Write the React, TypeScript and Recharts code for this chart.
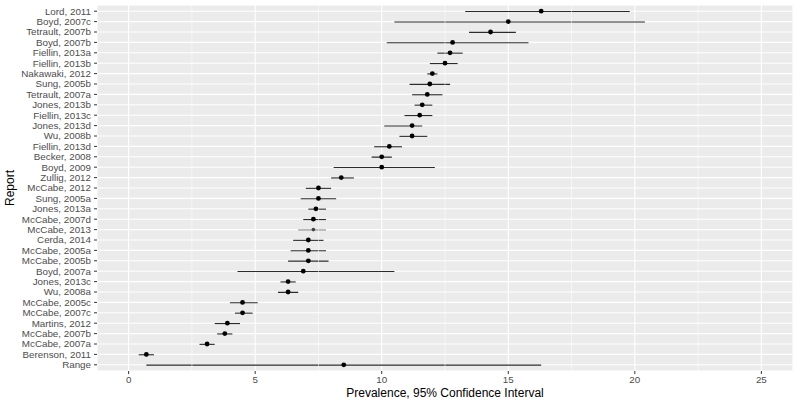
import React from 'react'
import { ComposedChart, Bar, Line, XAxis, YAxis, CartesianGrid, ReferenceLine, Cell } from 'recharts'

// reports listed top to bottom
const reports = [
  'Lord, 2011', 'Boyd, 2007c', 'Tetrault, 2007b', 'Boyd, 2007b', 'Fiellin, 2013a', 'Fiellin, 2013b',
  'Nakawaki, 2012', 'Sung, 2005b', 'Tetrault, 2007a', 'Jones, 2013b', 'Fiellin, 2013c', 'Jones, 2013d',
  'Wu, 2008b', 'Fiellin, 2013d', 'Becker, 2008', 'Boyd, 2009', 'Zullig, 2012', 'McCabe, 2012',
  'Sung, 2005a', 'Jones, 2013a', 'McCabe, 2007d', 'McCabe, 2013', 'Cerda, 2014', 'McCabe, 2005a',
  'McCabe, 2005b', 'Boyd, 2007a', 'Jones, 2013c', 'Wu, 2008a', 'McCabe, 2005c', 'McCabe, 2007c',
  'Martins, 2012', 'McCabe, 2007b', 'McCabe, 2007a', 'Berenson, 2011', 'Range',
]
const estimate = [
  16.3, 15.0, 14.3, 12.8, 12.7, 12.5, 12.0, 11.9, 11.8, 11.6, 11.5, 11.2,
  11.2, 10.3, 10.0, 10.0, 8.4, 7.5, 7.5, 7.4, 7.3, 7.3, 7.1, 7.1,
  7.1, 6.9, 6.3, 6.3, 4.5, 4.5, 3.9, 3.8, 3.1, 0.7, 8.5,
]
const lower = [
  13.3, 10.5, 13.45, 10.2, 12.2, 11.9, 11.8, 11.1, 11.2, 11.3, 10.9, 10.1,
  10.7, 9.7, 9.6, 8.1, 8.0, 7.0, 6.8, 7.1, 6.9, 6.7, 6.5, 6.4,
  6.3, 4.3, 6.0, 5.9, 4.0, 4.2, 3.4, 3.5, 2.8, 0.4, 0.7,
]
const upper = [
  19.8, 20.4, 15.3, 15.8, 13.2, 13.0, 12.2, 12.7, 12.4, 12.0, 12.0, 11.6,
  11.8, 10.8, 10.4, 12.1, 8.9, 8.0, 8.2, 7.8, 7.8, 7.8, 7.7, 7.8,
  7.9, 10.5, 6.6, 6.7, 5.1, 4.9, 4.4, 4.1, 3.4, 1.0, 16.3,
]
const xTicks = [0, 5, 10, 15, 20, 25]
const minorTicks = [2.5, 7.5, 12.5, 17.5, 22.5]
const faint = ['McCabe, 2013']

const data = reports.map((report, i) => ({
  report,
  est: estimate[i],
  ci: [lower[i], upper[i]],
}))

const font = '"Liberation Sans", Arial, Helvetica, sans-serif'
const tickStyle = { fill: '#4D4D4D', fontSize: 9.8, fontFamily: font }

const Dot = (props: any) => {
  const { cx, cy, payload, index } = props
  if (cx == null || cy == null) return null
  const light = faint.includes(payload.report)
  return <circle key={index} cx={cx} cy={cy} r={light ? 1.8 : 2.4} fill={light ? '#444' : '#000'} />
}

// plain text ticks, recharts would otherwise wrap the labels
const ReportTick = (props: any) => {
  const { x, y, payload } = props
  return (
    <text x={x} y={y} dy="0.355em" textAnchor="end" fill="#4D4D4D" fontSize={9.8} fontFamily={font}>
      {payload.value}
    </text>
  )
}

export default function App() {
  return (
    <div style={{ position: 'fixed', left: 0, top: 0, width: 800, height: 404, background: '#fff', fontFamily: font }}>
      <ComposedChart width={800} height={404} data={data} layout="vertical"
        margin={{ top: 5, right: 7, bottom: 0, left: 0 }}>
        <CartesianGrid fill="#EBEBEB" fillOpacity={1} stroke="#FFFFFF" strokeWidth={1.1} />
        {minorTicks.map(v => (
          <ReferenceLine key={v} x={v} stroke="#FFFFFF" strokeWidth={0.55} />
        ))}
        <XAxis type="number" dataKey="est" domain={[-1.25, 26.25]} ticks={xTicks} allowDataOverflow
          height={33} axisLine={false} tickSize={3} tickMargin={2}
          tick={tickStyle} tickLine={{ stroke: '#333333' }} />
        <YAxis type="category" dataKey="report" width={97} interval={0}
          padding={{ top: 1, bottom: 1 }} axisLine={false} tickSize={3} tickMargin={3}
          tick={<ReportTick />} tickLine={{ stroke: '#333333' }} />
        <Bar dataKey="ci" barSize={1.1} fill="#2b2b2b" isAnimationActive={false}>
          {data.map(d => (
            <Cell key={d.report} fill={faint.includes(d.report) ? '#8a8a8a' : '#2b2b2b'} />
          ))}
        </Bar>
        <Line dataKey="est" stroke="none" dot={Dot} activeDot={false} isAnimationActive={false} />
      </ComposedChart>
      <div style={{ position: 'absolute', left: 245, width: 400, top: 385, textAlign: 'center', fontSize: 12, color: '#000', lineHeight: '16px' }}>
        Prevalence, 95% Confidence Interval
      </div>
      <div style={{ position: 'absolute', left: 10, top: 188, width: 0, height: 0 }}>
        <div style={{ position: 'absolute', left: -50, top: -8, width: 100, textAlign: 'center', fontSize: 12, color: '#000', lineHeight: '16px', transform: 'rotate(-90deg)' }}>
          Report
        </div>
      </div>
    </div>
  )
}
